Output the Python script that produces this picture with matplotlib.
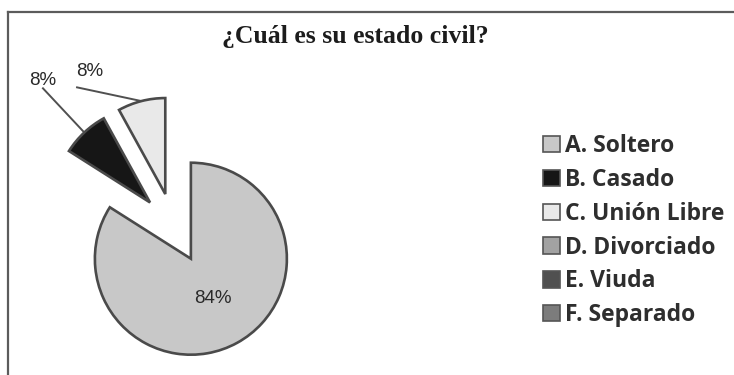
import matplotlib
matplotlib.use('Agg')
import matplotlib.pyplot as plt
from matplotlib.patches import Patch
from matplotlib.lines import Line2D
import numpy as np

# estado civil -- porcentajes de la encuesta
categorias = ['A. Soltero', 'B. Casado', 'C. Unión Libre',
              'D. Divorciado', 'E. Viuda', 'F. Separado']
porcentajes = [84, 8, 8, 0, 0, 0]
colores = ['#c8c8c8', '#161616', '#e9e9e9', '#a2a2a2', '#505050', '#7c7c7c']
titulo = '¿Cuál es su estado civil?'

W, H = 734, 375
DPI = 100
CX, CY, R = 174, 228, 96     # centro y radio del pastel, en pixeles

fig = plt.figure(figsize=(W / DPI, H / DPI), dpi=DPI)
fig.patch.set_facecolor('white')
ax = fig.add_axes([0, 0, 1, 1])

# solo las categorias con valor entran al pastel
vals = [v for v in porcentajes if v > 0]
cols = [c for v, c in zip(porcentajes, colores) if v > 0]

wedges, texts, autotexts = ax.pie(
    vals, colors=cols, startangle=90, counterclock=False,
    explode=[0.365] * len(vals), radius=1.0,
    autopct='%1.0f%%', pctdistance=0.47,
    wedgeprops=dict(edgecolor='#4a4a4a', linewidth=1.9),
    textprops=dict(family='Liberation Sans', fontsize=13.5, color='#2a2a2a'))

# los porcentajes pequenos van afuera con linea guia
label_pos = {1: (-1.365, 1.54), 2: (-0.875, 1.625)}
line_start = {1: (-1.365, 1.455), 2: (-1.01, 1.465)}
for i, t in enumerate(autotexts):
    if i == 0:
        continue
    w = wedges[i]
    t.set_position(label_pos[i])
    t.set_ha('center')
    t.set_va('center')
    mid = np.deg2rad((w.theta1 + w.theta2) / 2)
    ex, ey = w.center[0] + w.r * np.cos(mid), w.center[1] + w.r * np.sin(mid)
    sx, sy = line_start[i]
    ax.plot([sx, ex], [sy, ey], color='#505050', lw=1.4, zorder=0)

ax.set_xlim(-CX / R, (W - CX) / R)
ax.set_ylim((CY - H) / R, CY / R)
ax.set_aspect('auto')
ax.axis('off')

# marco: solo linea superior e izquierda
fig.add_artist(Line2D([8 / W, 1], [1 - 12 / H, 1 - 12 / H],
                      color='#5c5c5c', lw=1.6, transform=fig.transFigure))
fig.add_artist(Line2D([8 / W, 8 / W], [0, 1 - 12 / H],
                      color='#5c5c5c', lw=1.6, transform=fig.transFigure))

fig.text(355 / W, 1 - 37 / H, titulo, ha='center', va='center',
         family='Liberation Serif', fontweight='bold', fontsize=18.5,
         color='#1c1c1c')

handles = [Patch(facecolor=c, edgecolor='#555555', linewidth=1.2)
           for c in colores]
fig.legend(handles, categorias, loc='upper left',
           bbox_to_anchor=(543 / W, 1 - 134 / H),
           frameon=False, borderpad=0, borderaxespad=0,
           handlelength=0.72, handleheight=0.72, handletextpad=0.22,
           labelspacing=0.43,
           prop=dict(family='Open Sans', weight='bold', size=16.5),
           labelcolor='#2e2e2e')

fig.savefig('out.png', dpi=DPI, facecolor='white')
